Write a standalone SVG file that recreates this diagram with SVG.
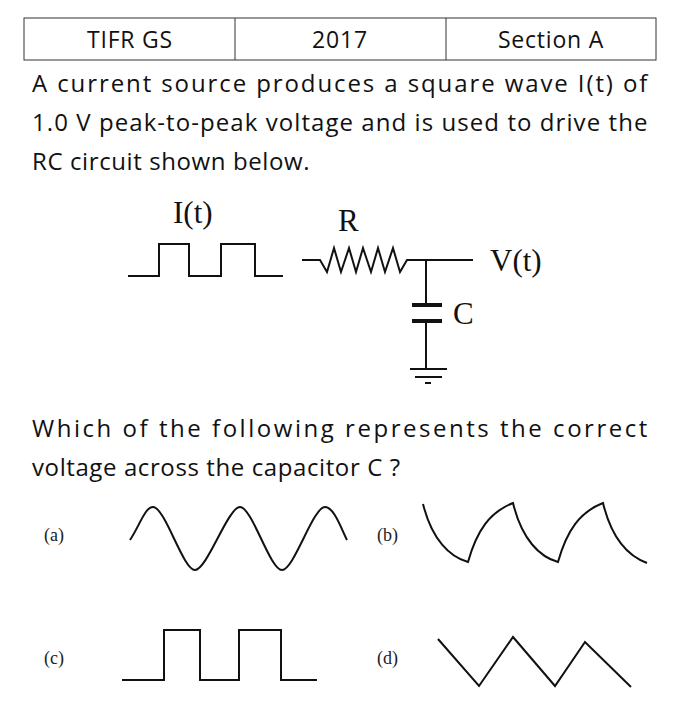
<svg xmlns="http://www.w3.org/2000/svg" width="680" height="728" viewBox="0 0 680 728">
<style>
.t{font-family:"Open Sans","Liberation Sans",sans-serif;font-size:24px;letter-spacing:0.6px;fill:#111}
.h{font-family:"Open Sans","Liberation Sans",sans-serif;font-size:23px;letter-spacing:0.8px;fill:#111}
.s{font-family:"Liberation Serif","Times New Roman",serif;font-size:31px;fill:#111}
.l{font-family:"Liberation Serif","Times New Roman",serif;font-size:18px;fill:#222}
.w{fill:none;stroke:#111;stroke-width:2}
</style>
<rect width="680" height="728" fill="#fff"/>
<g id="header">
<rect x="24" y="18" width="632" height="42" fill="none" stroke="#333" stroke-width="1"/>
<line x1="235" y1="18" x2="235" y2="60" stroke="#333"/>
<line x1="446" y1="18" x2="446" y2="60" stroke="#333"/>
<text class="h" x="130" y="48" text-anchor="middle">TIFR GS</text>
<text class="h" x="340" y="48" text-anchor="middle">2017</text>
<text class="h" x="551" y="48" text-anchor="middle">Section A</text>
</g>
<g id="question">
<text class="t" x="32" y="92" textLength="616" lengthAdjust="spacing">A current source produces a square wave I(t) of</text>
<text class="t" x="32" y="131" textLength="616" lengthAdjust="spacing">1.0 V peak-to-peak voltage and is used to drive the</text>
<text class="t" x="32" y="170">RC circuit shown below.</text>
<text class="t" x="32" y="437" textLength="616" lengthAdjust="spacing">Which of the following represents the correct</text>
<text class="t" x="32" y="476">voltage across the capacitor C ?</text>
</g>
<g id="circuit">
<text class="s" x="173" y="223">I(t)</text>
<text class="s" x="338" y="231">R</text>
<text class="s" x="490" y="271">V(t)</text>
<text class="s" x="453" y="324">C</text>
<path class="w" d="M128 276H159V244H189V276H221V244H255V276H283"/>
<path class="w" d="M302 260H320L327 272L334 248L341 272L349 248L356 272L363 248L371 272L378 248L385 272L393 248L400 272L407 260H473M426 260V305M426 321V369"/>
<path d="M412 305H442M412 321H442" stroke="#111" stroke-width="4"/>
<path class="w" d="M410 369H447M415 377H442M425 383H431"/>
</g>
<g id="options">
<text class="l" x="44" y="541">(a)</text>
<text class="l" x="377" y="541">(b)</text>
<text class="l" x="44" y="664">(c)</text>
<text class="l" x="377" y="664">(d)</text>
<path class="w" d="M130 540 C140 525 145 507 153 507 C165 507 183 570 195 570 C207 570 228 507 240 507 C252 507 270 570 282 570 C294 570 313 507 325 507 C334 507 341 528 347 540"/>
<path class="w" d="M423 504 C432 540 450 557 468 562 C477 530 490 512 513 503 C522 540 540 557 558 562 C567 530 580 512 603 503 C612 540 628 556 647 563"/>
<path class="w" d="M122 680H164V630H200V680H239V630H281V680H317"/>
<path class="w" d="M438 639L479 686L513 637L555 686L585 642L631 687"/>
</g>
</svg>
